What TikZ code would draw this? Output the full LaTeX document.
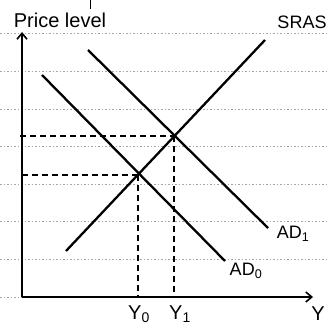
\documentclass[tikz,border=0pt]{standalone}
\usepackage{fontspec}
\setmainfont{Liberation Sans}
\usetikzlibrary{arrows.meta}
\begin{document}
\begin{tikzpicture}[x=1pt,y=-1pt,
  rule/.style={gray!70,line width=0.8pt,dash pattern=on 1.5pt off 2pt},
  axis/.style={line width=2.2pt,-{Straight Barb[length=6pt,width=10pt,line width=1.6pt]}},
  curve/.style={line width=2.3pt},
  guide/.style={line width=1.3pt,dash pattern=on 6pt off 4pt},
  lbl/.style={inner sep=0pt,font=\fontsize{18}{18}\selectfont}]
\useasboundingbox (0,0) rectangle (328,328);
\foreach \yy in {33,71,109,146,184,221,259}{\draw[rule] (0,\yy) -- (328,\yy);}
\draw[rule] (0,297) -- (22,297);
% axes
\coordinate (O) at (22,297);
\coordinate (ytop) at (22,32);
\coordinate (xend) at (313,297);
\draw[axis] (O) -- (ytop);
\draw[axis] (O) -- (xend);
\draw[line width=1pt] (90,0) -- (90,9);
% curves
\coordinate (ad0a) at (42,75);
\coordinate (ad0b) at (225,261);
\coordinate (ad1a) at (88,50);
\coordinate (ad1b) at (268,228);
\coordinate (sa) at (66,251);
\coordinate (sb) at (265,40);
\draw[curve] (ad0a) -- (ad0b);
\draw[curve] (ad1a) -- (ad1b);
\draw[curve] (sa) -- (sb);
% equilibria
\coordinate (E0) at (138,175);
\coordinate (E1) at (174,136);
\coordinate (E0y) at (22,175);
\coordinate (E1y) at (20,136);
\coordinate (E0x) at (138,297);
\coordinate (E1x) at (174,297);
\draw[guide] (E0y) -- (E0);
\draw[guide] (E1y) -- (E1);
\draw[guide] (E0) -- (E0x);
\draw[guide] (E1) -- (E1x);
% labels
\node[lbl,font=\fontsize{20}{20}\selectfont] (pl) at (60,20) {Price level};
\node[lbl] (sras) at (302,22) {SRAS};
\node[lbl] (ad1) at (293,234) {AD\textsubscript{1}};
\node[lbl] (ad0) at (246,271) {AD\textsubscript{0}};
\node[lbl,font=\fontsize{20}{20}\selectfont] (y0) at (139,314) {Y\textsubscript{0}};
\node[lbl,font=\fontsize{20}{20}\selectfont] (y1) at (180,314) {Y\textsubscript{1}};
\node[lbl,font=\fontsize{20}{20}\selectfont] (y) at (318,314) {Y};
\end{tikzpicture}
\end{document}
